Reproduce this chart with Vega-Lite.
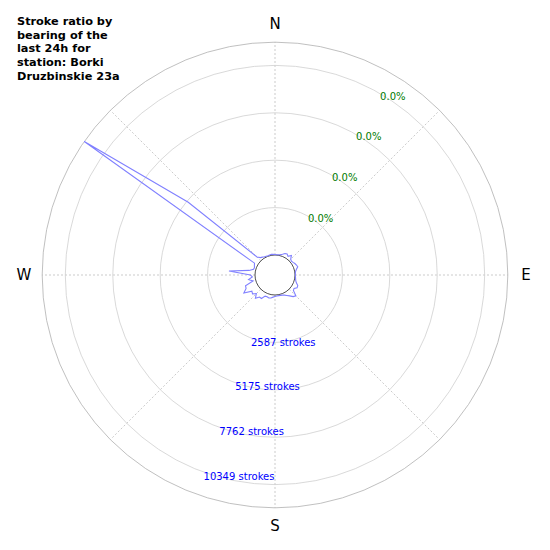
{
  "$schema": "https://vega.github.io/schema/vega-lite/v6.json",
  "width": 550,
  "height": 550,
  "autosize": {"type": "none"},
  "padding": 0,
  "background": "white",
  "config": {"view": {"stroke": null}, "font": "DejaVu Sans"},
  "title": {
    "text": ["Stroke ratio by", "bearing of the", "last 24h for", "station: Borki", "Druzbinskie 23a"],
    "anchor": "start",
    "frame": "group",
    "font": "DejaVu Sans",
    "fontSize": 11.3,
    "fontWeight": "bold",
    "lineHeight": 13.7,
    "color": "black",
    "dx": 17,
    "offset": -82
  },
  "datasets": {
    "strokes": [
      {"bearing": 0, "strokes": 30}, {"bearing": 5, "strokes": 20}, {"bearing": 10, "strokes": 30},
      {"bearing": 15, "strokes": 60}, {"bearing": 20, "strokes": 110}, {"bearing": 25, "strokes": 200},
      {"bearing": 30, "strokes": 230}, {"bearing": 35, "strokes": 150}, {"bearing": 40, "strokes": 300},
      {"bearing": 45, "strokes": 120}, {"bearing": 50, "strokes": 80}, {"bearing": 55, "strokes": 110},
      {"bearing": 60, "strokes": 160}, {"bearing": 65, "strokes": 200}, {"bearing": 70, "strokes": 230},
      {"bearing": 75, "strokes": 120}, {"bearing": 80, "strokes": 50}, {"bearing": 85, "strokes": 20},
      {"bearing": 90, "strokes": 20}, {"bearing": 95, "strokes": 30}, {"bearing": 100, "strokes": 50},
      {"bearing": 105, "strokes": 80}, {"bearing": 110, "strokes": 150}, {"bearing": 115, "strokes": 280},
      {"bearing": 120, "strokes": 300}, {"bearing": 125, "strokes": 180}, {"bearing": 130, "strokes": 220},
      {"bearing": 135, "strokes": 520}, {"bearing": 140, "strokes": 450}, {"bearing": 145, "strokes": 300},
      {"bearing": 150, "strokes": 200}, {"bearing": 155, "strokes": 120}, {"bearing": 160, "strokes": 80},
      {"bearing": 165, "strokes": 60}, {"bearing": 170, "strokes": 50}, {"bearing": 175, "strokes": 60},
      {"bearing": 180, "strokes": 80}, {"bearing": 185, "strokes": 120}, {"bearing": 190, "strokes": 180},
      {"bearing": 195, "strokes": 210}, {"bearing": 200, "strokes": 170}, {"bearing": 205, "strokes": 180},
      {"bearing": 210, "strokes": 390}, {"bearing": 215, "strokes": 380}, {"bearing": 220, "strokes": 570},
      {"bearing": 225, "strokes": 350}, {"bearing": 230, "strokes": 510}, {"bearing": 235, "strokes": 450},
      {"bearing": 240, "strokes": 870}, {"bearing": 245, "strokes": 650}, {"bearing": 250, "strokes": 620},
      {"bearing": 255, "strokes": 150}, {"bearing": 260, "strokes": 370}, {"bearing": 265, "strokes": 150},
      {"bearing": 270, "strokes": 250}, {"bearing": 275, "strokes": 1430}, {"bearing": 280, "strokes": 350},
      {"bearing": 285, "strokes": 120}, {"bearing": 290, "strokes": 100}, {"bearing": 295, "strokes": 150},
      {"bearing": 300, "strokes": 200}, {"bearing": 305, "strokes": 11615}, {"bearing": 310, "strokes": 5090},
      {"bearing": 315, "strokes": 300}, {"bearing": 320, "strokes": 150}, {"bearing": 325, "strokes": 100},
      {"bearing": 330, "strokes": 60}, {"bearing": 335, "strokes": 40}, {"bearing": 340, "strokes": 30},
      {"bearing": 345, "strokes": 40}, {"bearing": 350, "strokes": 60}, {"bearing": 355, "strokes": 40}
    ],
    "rings": [
      {"strokes": 2587, "label": "2587 strokes", "pct": "0.0%"},
      {"strokes": 5175, "label": "5175 strokes", "pct": "0.0%"},
      {"strokes": 7762, "label": "7762 strokes", "pct": "0.0%"},
      {"strokes": 10349, "label": "10349 strokes", "pct": "0.0%"}
    ],
    "edges": [
      {"strokes": 11615, "kind": "outer"},
      {"strokes": 0, "kind": "hole"}
    ],
    "spokes": [
      {"bearing": 0}, {"bearing": 45}, {"bearing": 90}, {"bearing": 135},
      {"bearing": 180}, {"bearing": 225}, {"bearing": 270}, {"bearing": 315}
    ],
    "compass": [
      {"bearing": 0, "label": "N"}, {"bearing": 90, "label": "E"},
      {"bearing": 180, "label": "S"}, {"bearing": 270, "label": "W"}
    ]
  },
  "layer": [
    {
      "data": {"name": "spokes"},
      "transform": [
        {"calculate": "1091.5 * sin(datum.bearing * PI / 180)", "as": "xa"},
        {"calculate": "1091.5 * cos(datum.bearing * PI / 180)", "as": "ya"},
        {"calculate": "12706.5 * sin(datum.bearing * PI / 180)", "as": "xb"},
        {"calculate": "12706.5 * cos(datum.bearing * PI / 180)", "as": "yb"}
      ],
      "mark": {"type": "rule", "color": "#b5b5b5", "strokeDash": [2, 2], "strokeWidth": 0.7},
      "encoding": {
        "x": {"field": "xa", "type": "quantitative", "axis": null, "scale": {"domain": [-15008.5, 15008.5], "nice": false, "zero": false}},
        "y": {"field": "ya", "type": "quantitative", "axis": null, "scale": {"domain": [-15008.5, 15008.5], "nice": false, "zero": false}},
        "x2": {"field": "xb"},
        "y2": {"field": "yb"}
      }
    },
    {
      "data": {"name": "rings"},
      "mark": {"type": "arc", "theta": 0, "theta2": 6.3, "fillOpacity": 0, "stroke": "#cfcfcf", "strokeWidth": 0.8},
      "encoding": {
        "radius": {"field": "strokes", "type": "quantitative", "stack": null, "scale": {"type": "linear", "domain": [-1091.5, 13917], "range": [0, 275], "zero": false, "nice": false}},
        "radius2": {"datum": -1091.5}
      }
    },
    {
      "data": {"name": "edges"},
      "mark": {"type": "arc", "theta": 0, "theta2": 6.3, "fillOpacity": 0, "strokeWidth": 0.8},
      "encoding": {
        "radius": {"field": "strokes", "type": "quantitative", "stack": null, "scale": {"type": "linear", "domain": [-1091.5, 13917], "range": [0, 275], "zero": false, "nice": false}},
        "radius2": {"datum": -1091.5},
        "stroke": {"field": "kind", "type": "nominal", "legend": null, "scale": {"domain": ["hole", "outer"], "range": ["#222222", "#b0b0b0"]}}
      }
    },
    {
      "data": {"name": "strokes"},
      "transform": [
        {"calculate": "(datum.strokes + 1091.5) * sin(datum.bearing * PI / 180)", "as": "px"},
        {"calculate": "(datum.strokes + 1091.5) * cos(datum.bearing * PI / 180)", "as": "py"}
      ],
      "mark": {"type": "line", "interpolate": "linear-closed", "color": "#8080ff", "strokeWidth": 1.1},
      "encoding": {
        "x": {"field": "px", "type": "quantitative", "axis": null, "scale": {"domain": [-15008.5, 15008.5], "nice": false, "zero": false}},
        "y": {"field": "py", "type": "quantitative", "axis": null, "scale": {"domain": [-15008.5, 15008.5], "nice": false, "zero": false}},
        "order": {"field": "bearing", "type": "quantitative"}
      }
    },
    {
      "data": {"name": "rings"},
      "transform": [
        {"calculate": "(datum.strokes + 1336) * sin(199.5 * PI / 180)", "as": "lx"},
        {"calculate": "(datum.strokes + 1336) * cos(199.5 * PI / 180)", "as": "ly"}
      ],
      "mark": {"type": "text", "align": "left", "baseline": "middle", "fontSize": 10, "color": "#0000ff"},
      "encoding": {
        "x": {"field": "lx", "type": "quantitative", "axis": null, "scale": {"domain": [-15008.5, 15008.5], "nice": false, "zero": false}},
        "y": {"field": "ly", "type": "quantitative", "axis": null, "scale": {"domain": [-15008.5, 15008.5], "nice": false, "zero": false}},
        "text": {"field": "label"}
      }
    },
    {
      "data": {"name": "rings"},
      "transform": [
        {"calculate": "(datum.strokes + 955) * sin(30.5 * PI / 180)", "as": "gx"},
        {"calculate": "(datum.strokes + 955) * cos(30.5 * PI / 180)", "as": "gy"}
      ],
      "mark": {"type": "text", "align": "left", "baseline": "middle", "fontSize": 10, "color": "#007a00"},
      "encoding": {
        "x": {"field": "gx", "type": "quantitative", "axis": null, "scale": {"domain": [-15008.5, 15008.5], "nice": false, "zero": false}},
        "y": {"field": "gy", "type": "quantitative", "axis": null, "scale": {"domain": [-15008.5, 15008.5], "nice": false, "zero": false}},
        "text": {"field": "pct"}
      }
    },
    {
      "data": {"name": "compass"},
      "transform": [
        {"calculate": "13699 * sin(datum.bearing * PI / 180)", "as": "cx"},
        {"calculate": "13699 * cos(datum.bearing * PI / 180)", "as": "cy"}
      ],
      "mark": {"type": "text", "align": "center", "baseline": "middle", "fontSize": 15, "color": "black"},
      "encoding": {
        "x": {"field": "cx", "type": "quantitative", "axis": null, "scale": {"domain": [-15008.5, 15008.5], "nice": false, "zero": false}},
        "y": {"field": "cy", "type": "quantitative", "axis": null, "scale": {"domain": [-15008.5, 15008.5], "nice": false, "zero": false}},
        "text": {"field": "label"}
      }
    }
  ]
}
